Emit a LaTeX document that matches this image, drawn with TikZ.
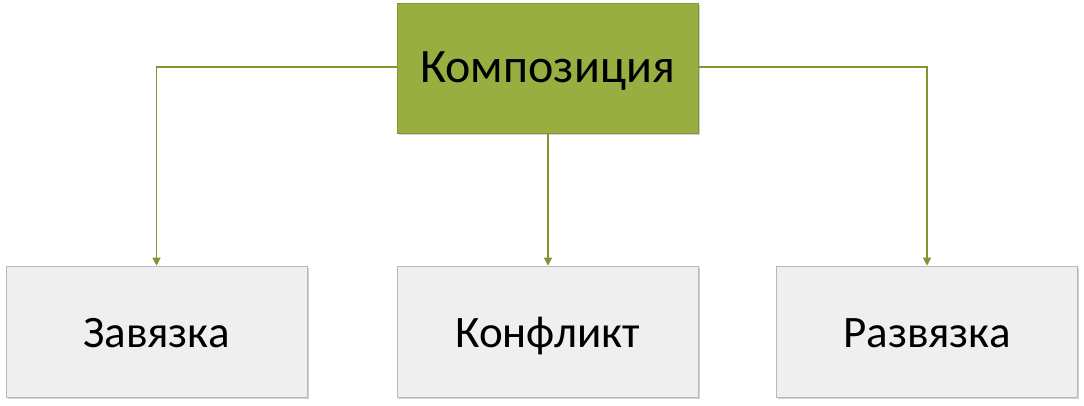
\documentclass[tikz,border=0pt]{standalone}
\usepackage{fontspec}
\setmainfont{Carlito}
\usetikzlibrary{arrows.meta,shadows}
\definecolor{olivefill}{RGB}{152,174,64}
\definecolor{oliveline}{RGB}{128,150,50}
\definecolor{boxfill}{RGB}{239,239,239}
\definecolor{boxline}{RGB}{185,185,185}
\tikzset{
  topbox/.style={draw=olivefill!85!black, line width=0.6pt, fill=olivefill, minimum width=301pt, minimum height=130pt, inner sep=0pt, font=\fontsize{48}{56}\selectfont,
    text height=35pt, text depth=6pt,
    drop shadow={shadow xshift=1.5pt, shadow yshift=-2pt, fill=black!30, opacity=0.6}},
  leafbox/.style={draw=boxline, line width=0.6pt, fill=boxfill, minimum width=301pt, minimum height=131pt, inner sep=0pt, font=\fontsize{45}{52}\selectfont,
    text height=36pt, text depth=5pt,
    drop shadow={shadow xshift=1.5pt, shadow yshift=-2pt, fill=black!30, opacity=0.6}},
  conn/.style={draw=oliveline, line width=1.2pt, -{Triangle[width=8pt,length=8pt]}}
}
\begin{document}
\begin{tikzpicture}[x=1pt,y=-1pt]
\useasboundingbox (0,0) rectangle (1084,406);
\node[topbox] (top) at (547.5,68.5) {Композиция};
\node[leafbox] (l) at (156.5,331.5) {Завязка};
\node[leafbox] (m) at (547.5,331.5) {Конфликт};
\node[leafbox] (r) at (927,331.5) {Развязка};
\draw[conn] ([xshift=0.5pt]top.south) -- ([xshift=0.5pt]m.north);
\draw[conn] (top.west |- 0,67) -| (l.north);
\draw[conn] (top.east |- 0,67) -| (r.north);
\end{tikzpicture}
\end{document}
